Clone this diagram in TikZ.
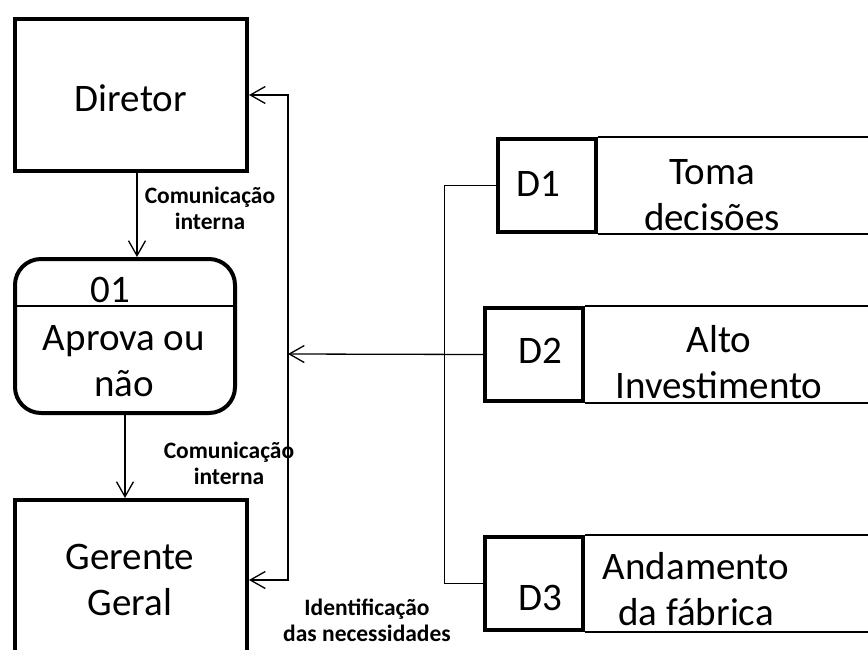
\documentclass[tikz,border=0pt]{standalone}
\usepackage{fontspec}
\setmainfont{Carlito}
\usetikzlibrary{arrows.meta}

\tikzset{
  entity/.style={draw, line width=4pt, rectangle, inner sep=0pt},
  process/.style={draw, line width=4pt, rectangle, rounded corners=26pt, inner sep=0pt},
  store/.style={draw, line width=4pt, rectangle, inner sep=0pt, minimum width=98pt, minimum height=93pt},
  thin/.style={line width=1.3pt},
  flow/.style={thin, -{Straight Barb[length=15pt,width=17pt,line width=1.3pt]}},
  flowboth/.style={thin, {Straight Barb[length=15pt,width=17pt,line width=1.3pt]}-{Straight Barb[length=15pt,width=17pt,line width=1.3pt]}},
  bigtext/.style={font=\fontsize{39}{46}\selectfont, align=center, inner sep=0pt},
  flowlabel/.style={font=\fontsize{23.5}{26}\selectfont\bfseries, align=center, inner sep=0pt},
}

\begin{document}
\begin{tikzpicture}[x=1pt, y=-1pt]
  \useasboundingbox (0,0) rectangle (868,650);
  \clip (0,0) rectangle (868,650);

  % external entities and the process
  \node[entity, minimum width=232pt, minimum height=152pt] (dir) at (131,95) {};
  \node[bigtext] (dirtxt) at (131,98) {Diretor};

  \node[process, minimum width=220pt, minimum height=154pt] (proc) at (125,336) {};
  \draw[thin] (proc.west |- 0,306) -- (proc.east |- 0,306);
  \node[bigtext] (proctxt) at (110,290) {01};
  \node[bigtext] (procname) at (124,361) {Aprova ou\\não};

  \node[entity, minimum width=232pt, minimum height=160pt] (ger) at (131,580) {};
  \node[bigtext] (gertxt) at (130,580) {Gerente\\Geral};

  % data stores
  \node[store] (d1) at (546.5,185.5) {};
  \node[store] (d2) at (534,354.5) {};
  \node[store] (d3) at (534,583.5) {};
  \node[bigtext] (d1id) at (538,184) {D1};
  \node[bigtext] (d2id) at (540,351) {D2};
  \node[bigtext] (d3id) at (540,598) {D3};

  \coordinate (edge1t) at (868,0);
  \foreach \s in {d1,d2,d3} {
    \draw[thin] (\s.north east) -- (\s.north east -| edge1t);
    \draw[thin] (\s.south east) -- (\s.south east -| edge1t);
  }
  \node[bigtext] (d1name) at (712,195) {Toma\\decisões};
  \node[bigtext] (d2name) at (719,362) {Alto\\Investimento};
  \node[bigtext] (d3name) at (696,589) {Andamento\\da fábrica};

  % data flows
  \draw[flow] ([xshift=6pt]dir.south) -- ([xshift=6pt]dir.south |- proc.north);
  \draw[flow] (proc.south) -- (proc.south |- ger.north);

  \coordinate (fb) at (288,354);
  \draw[flowboth] (dir.east) -| (fb) |- (ger.east);
  \draw[flow] (d2.west) -- (fb);
  \draw[thin] (d1.west) -- ++(-51,0) |- (d3.west);

  \node[flowlabel] (lab1) at (210,208) {Comunicação\\interna};
  \node[flowlabel] (lab2) at (229,463) {Comunicação\\interna};
  \node[flowlabel] (lab3) at (367,620) {Identificação\\das necessidades};
\end{tikzpicture}
\end{document}
